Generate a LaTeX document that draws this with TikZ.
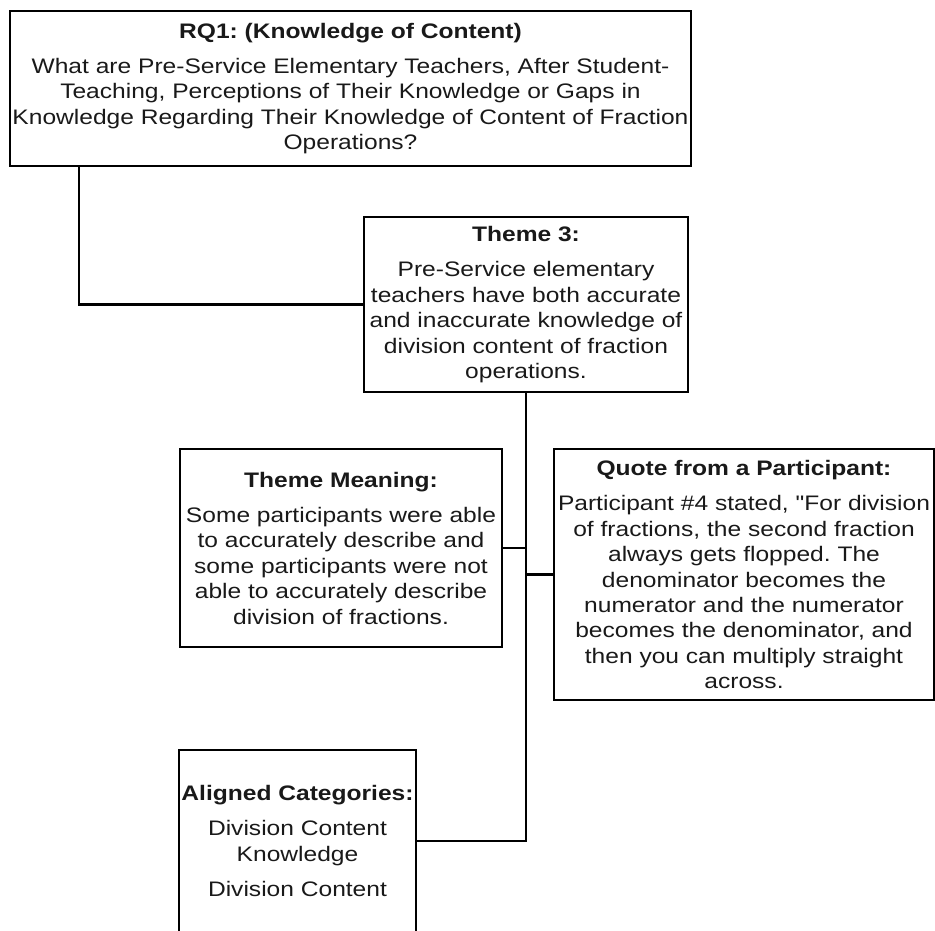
\documentclass[tikz,border=0pt]{standalone}
\usepackage{fontspec}
\setmainfont{Liberation Sans}[FakeStretch=1.17, Ligatures=TeXOff]
\frenchspacing
\begin{document}
\begin{tikzpicture}[x=1pt,y=-1pt,
  box/.style={draw=black, line width=2.3pt, rectangle, inner sep=0pt, outer sep=0pt,
    align=center, text=black!90, font=\fontsize{21}{25.4}\selectfont},
  link/.style={draw=black, line width=2.5pt}]
\useasboundingbox (0,0) rectangle (935,930);
\clip (0,0) rectangle (935,930);

% research question
\node[box, minimum width=681pt, minimum height=155pt] (rq) at (350.5,88.5)
  {\textbf{RQ1: (Knowledge of Content)}\\[10pt]
   What are Pre-Service Elementary Teachers, After Student-\\
   Teaching, Perceptions of Their Knowledge or Gaps in\\
   Knowledge Regarding Their Knowledge of Content of Fraction\\
   Operations?};

% theme
\node[box, minimum width=324pt, minimum height=175pt] (t3) at (526,304.5)
  {\textbf{Theme 3:}\\[10pt]
   Pre-Service elementary\\
   teachers have both accurate\\
   and inaccurate knowledge of\\
   division content of fraction\\
   operations.};

% meaning of the theme
\node[box, minimum width=322pt, minimum height=198pt] (tm) at (341,548)
  {\textbf{Theme Meaning:}\\[10pt]
   Some participants were able\\
   to accurately describe and\\
   some participants were not\\
   able to accurately describe\\
   division of fractions.};

% participant quote
\node[box, minimum width=380pt, minimum height=251pt] (qt) at (744,574.5)
  {\textbf{Quote from a Participant:}\\[10pt]
   Participant \#4 stated, "For division\\
   of fractions, the second fraction\\
   always gets flopped. The\\
   denominator becomes the\\
   numerator and the numerator\\
   becomes the denominator, and\\
   then you can multiply straight\\
   across.};

% aligned categories
\node[box, minimum width=237pt, minimum height=182pt] (al) at (297.5,841)
  {\textbf{Aligned Categories:}\\[10pt]
   Division Content\\
   Knowledge\\[10pt]
   Division Content};

% connectors
\draw[link] ([xshift=69pt]rq.south west) |- (t3.west);
\draw[link] (t3.south) |- (al.east);
\draw[link] (tm.east) -- (tm.east -| t3.south);
\draw[link] (qt.west) -- (qt.west -| t3.south);
\end{tikzpicture}
\end{document}
